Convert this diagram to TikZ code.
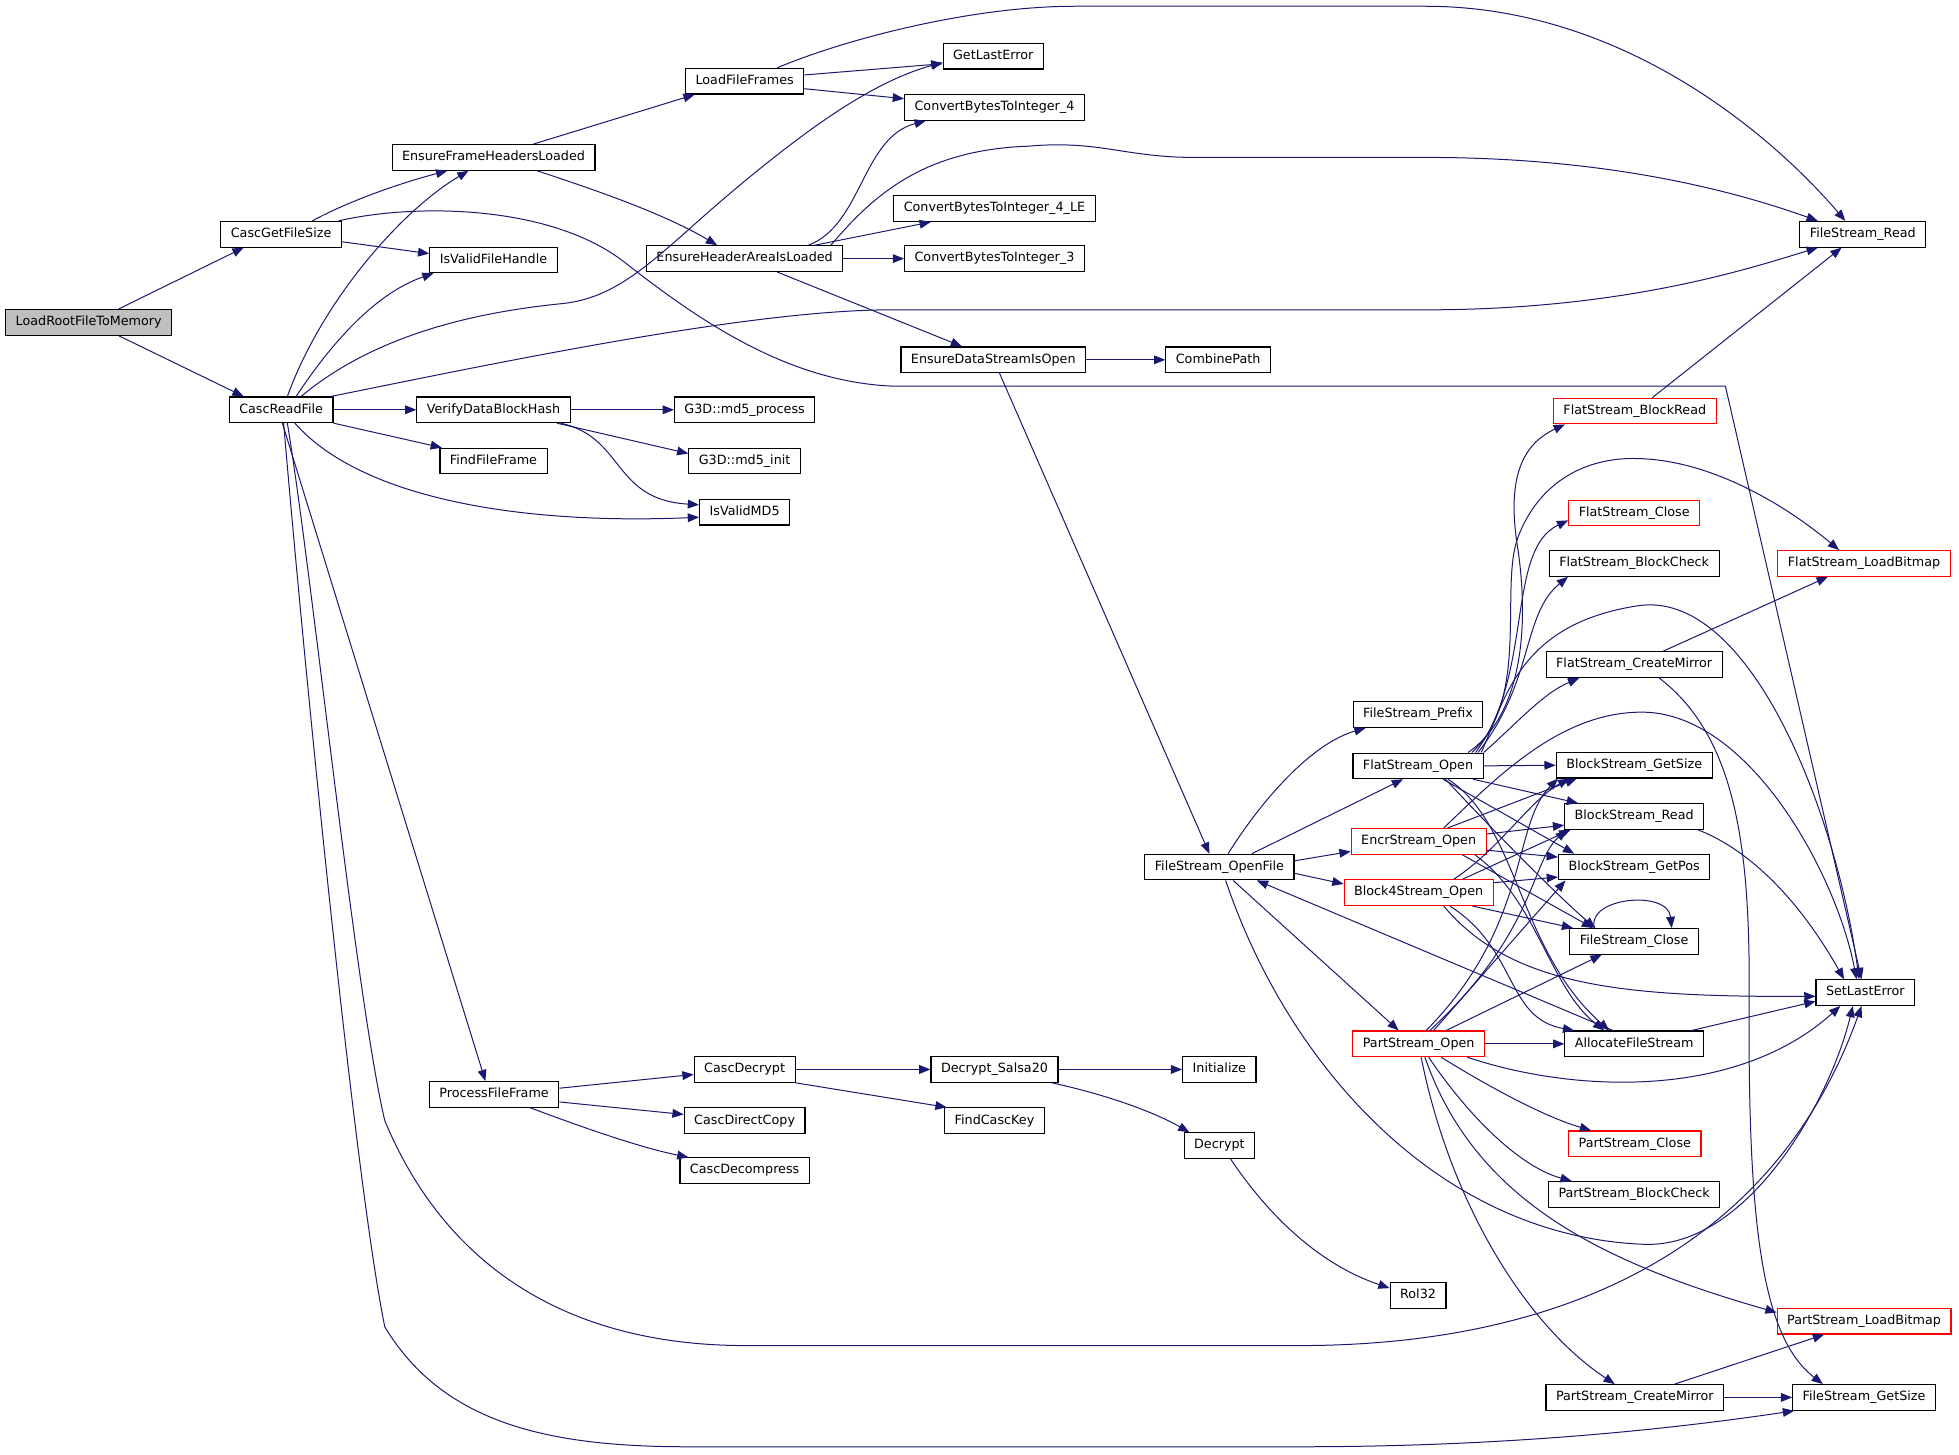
\documentclass[tikz,border=0pt]{standalone}
\usepackage{fontspec}
\setmainfont{DejaVu Sans}
\usetikzlibrary{arrows.meta}
\definecolor{edgec}{HTML}{191970}
\definecolor{rootf}{HTML}{BFBFBF}
\definecolor{redb}{HTML}{FF0000}
\begin{document}
\begin{tikzpicture}[x=1pt,y=-1pt,
  box/.style={draw=black, line width=0.9pt, fill=white, minimum height=20.5pt,
    inner xsep=8pt, inner ysep=0pt, text height=7.6pt, text depth=2.3pt,
    font=\fontsize{10.2}{12}\selectfont},
  redbox/.style={box, draw=redb},
  rootbox/.style={box, fill=rootf},
  e/.style={draw=edgec, line width=0.8pt, -{Triangle[length=9pt,width=7pt]}}]
\fill[white] (0,0) rectangle (1568,1164);
\useasboundingbox (0,0) rectangle (1568,1164);
% nodes
\node[rootbox] (root) at (71,258) {LoadRootFileToMemory};
\node[box] (cgfs) at (225,187.5) {CascGetFileSize};
\node[box] (crf) at (225,328) {CascReadFile};
\node[box] (efhl) at (395,126) {EnsureFrameHeadersLoaded};
\node[box] (ivfh) at (395,208) {IsValidFileHandle};
\node[box] (vdbh) at (395,328) {VerifyDataBlockHash};
\node[box] (fff) at (395,369) {FindFileFrame};
\node[box] (pff) at (395.5,876) {ProcessFileFrame};
\node[box] (lff) at (596,65) {LoadFileFrames};
\node[box] (ehal) at (596,207) {EnsureHeaderAreaIsLoaded};
\node[box] (md5p) at (596,328) {G3D::md5\_process};
\node[box] (md5i) at (596,369) {G3D::md5\_init};
\node[box] (ivmd5) at (596,410) {IsValidMD5};
\node[box] (cdec) at (596,856) {CascDecrypt};
\node[box] (cdc) at (596,897) {CascDirectCopy};
\node[box] (cdcmp) at (596,937) {CascDecompress};
\node[box] (gle) at (795,45) {GetLastError};
\node[box] (cbi4) at (796,86) {ConvertBytesToInteger\_4};
\node[box] (cbi4le) at (796,167) {ConvertBytesToInteger\_4\_LE};
\node[box] (cbi3) at (796,207) {ConvertBytesToInteger\_3};
\node[box] (edso) at (795,288) {EnsureDataStreamIsOpen};
\node[box] (ds20) at (796,856) {Decrypt\_Salsa20};
\node[box] (fck) at (796,897) {FindCascKey};
\node[box] (cp) at (975,288) {CombinePath};
\node[box] (fsof) at (976,694) {FileStream\_OpenFile};
\node[box] (init) at (976,856) {Initialize};
\node[box] (decr) at (976,917) {Decrypt};
\node[box] (fsp) at (1135,572) {FileStream\_Prefix};
\node[box] (fso) at (1135,613) {FlatStream\_Open};
\node[redbox] (eso) at (1135.5,673.5) {EncrStream\_Open};
\node[redbox] (b4so) at (1135.5,714.5) {Block4Stream\_Open};
\node[redbox] (pso) at (1135.5,835.5) {PartStream\_Open};
\node[box] (rol) at (1135,1037) {Rol32};
\node[redbox] (fsbr) at (1308.5,329) {FlatStream\_BlockRead};
\node[redbox] (fsc) at (1308,410.5) {FlatStream\_Close};
\node[box] (fsbc) at (1308,451) {FlatStream\_BlockCheck};
\node[box] (fscm) at (1308,532) {FlatStream\_CreateMirror};
\node[box] (bsgs) at (1308,612.5) {BlockStream\_GetSize};
\node[box] (bsr) at (1308,653.5) {BlockStream\_Read};
\node[box] (bsgp) at (1308,694) {BlockStream\_GetPos};
\node[box] (fscl) at (1308,753.5) {FileStream\_Close};
\node[box] (afs) at (1308,835.5) {AllocateFileStream};
\node[redbox] (psc) at (1308.5,915.5) {PartStream\_Close};
\node[box] (psbc) at (1308,956) {PartStream\_BlockCheck};
\node[box] (pscm) at (1308.5,1118.5) {PartStream\_CreateMirror};
\node[box] (fsr) at (1491,187.5) {FileStream\_Read};
\node[redbox] (fslb) at (1492,451) {FlatStream\_LoadBitmap};
\node[box] (sle) at (1493,794.5) {SetLastError};
\node[redbox] (pslb) at (1492,1057.5) {PartStream\_LoadBitmap};
\node[box] (fsgs) at (1492,1118.5) {FileStream\_GetSize};
% root
\draw[e] ([xshift=24pt]root.north) -- ([xshift=-30pt]cgfs.south);
\draw[e] ([xshift=24pt]root.south) -- ([xshift=-30pt]crf.north);
% CascGetFileSize
\draw[e] ([xshift=25pt]cgfs.north) .. controls (275,163) and (315,148) .. ([xshift=-37pt]efhl.south);
\draw[e] ([yshift=-6pt]cgfs.east) -- ([yshift=5pt]ivfh.west);
\draw[e] ([xshift=46pt]cgfs.north) .. controls (330,163) and (440,163) .. (500,210) .. controls (560,257) and (630,305) .. (713,309) -- (1381,309) -- ([xshift=-3pt]sle.north);
% CascReadFile
\draw[e] ([xshift=5pt]crf.north) .. controls (258,240) and (322,168) .. ([xshift=-20pt]efhl.south);
\draw[e] ([xshift=12pt]crf.north) .. controls (265,275) and (300,235) .. ([xshift=-48pt]ivfh.south);
\draw[e] ([xshift=16pt]crf.north) .. controls (300,268) and (380,250) .. (450,243) .. controls (500,238) and (530,200) .. (590,150) .. controls (650,100) and (700,65) .. ([yshift=-5pt]gle.west);
\draw[e] ([xshift=40pt]crf.north) .. controls (400,290) and (600,248) .. (713,248) -- (1141,248) .. controls (1300,248) and (1400,215) .. ([xshift=-36pt]fsr.south);
\draw[e] (crf.east) -- (vdbh.west);
\draw[e] (crf.south east) -- ([xshift=2pt]fff.north west);
\draw[e] ([xshift=11pt]crf.south) .. controls (290,400) and (420,420) .. ([yshift=-4pt]ivmd5.west);
\draw[e] ([xshift=1pt]crf.south) -- ([xshift=-7pt]pff.north);
\draw[e] ([xshift=5pt]crf.south) .. controls (250,460) and (285,800) .. (308,897) .. controls (355,1010) and (450,1077) .. (597,1077) -- (1040,1077) .. controls (1250,1077) and (1420,1000) .. ([xshift=-3pt]sle.south);
\draw[e] ([xshift=2pt]crf.south) .. controls (245,550) and (285,950) .. (308,1062) .. controls (355,1140) and (440,1158) .. (551,1158) -- (1040,1158) .. controls (1200,1158) and (1330,1145) .. ([xshift=-56pt]fsgs.south);
% EnsureFrameHeadersLoaded
\draw[e] ([xshift=32pt]efhl.north) -- ([xshift=-40pt]lff.south);
\draw[e] ([xshift=35pt]efhl.south) .. controls (470,150) and (530,170) .. ([xshift=-22pt]ehal.north);
% LoadFileFrames
\draw[e] ([yshift=5pt]lff.east) -- ([yshift=-6pt]gle.west);
\draw[e] ([yshift=-6pt]lff.east) -- ([yshift=7pt]cbi4.west);
\draw[e] ([xshift=26pt]lff.north) .. controls (680,30) and (780,5) .. (860,5) -- (1141,5) .. controls (1300,5) and (1420,110) .. ([xshift=-14pt]fsr.north);
% EnsureHeaderAreaIsLoaded
\draw[e] ([xshift=51pt]ehal.north) .. controls (690,180) and (690,110) .. ([xshift=-55pt]cbi4.south);
\draw[e] ([xshift=69pt]ehal.north) .. controls (700,155) and (740,120) .. (823,117) .. controls (880,112) and (900,126) .. (956,126) -- (1141,126) .. controls (1280,126) and (1380,150) .. ([xshift=-36pt]fsr.north);
\draw[e] ([xshift=56pt]ehal.north) -- ([xshift=-51pt]cbi4le.south);
\draw[e] (ehal.east) -- (cbi3.west);
\draw[e] ([xshift=26pt]ehal.south) -- ([xshift=-25pt]edso.north);
% EnsureDataStreamIsOpen
\draw[e] (edso.east) -- (cp.west);
\draw[e] ([xshift=5pt]edso.south) -- ([xshift=-8pt]fsof.north);
% VerifyDataBlockHash
\draw[e] (vdbh.east) -- (md5p.west);
\draw[e] ([xshift=-11pt]vdbh.south east) -- ([yshift=6pt]md5i.west);
\draw[e] ([xshift=-8pt]vdbh.south east) .. controls (500,350) and (490,400) .. ([yshift=6pt]ivmd5.west);
% FileStream_OpenFile
\draw[e] ([xshift=7pt]fsof.north) .. controls (1010,640) and (1050,595) .. ([xshift=-42pt]fsp.south);
\draw[e] ([xshift=26pt]fsof.north) -- ([xshift=-12pt]fso.south);
\draw[e] ([yshift=5pt]fsof.east) -- ([yshift=-8pt]eso.west);
\draw[e] ([yshift=-5pt]fsof.east) -- ([yshift=7pt]b4so.west);
\draw[e] ([xshift=11pt]fsof.south) -- ([xshift=-16pt]pso.north);
\draw[e] ([xshift=5pt]fsof.south) .. controls (1030,850) and (1150,990) .. (1317,996) .. controls (1400,998) and (1465,880) .. ([xshift=-10pt]sle.south);
\draw[e] ([xshift=-17pt]afs.north) -- ([xshift=30pt]fsof.south);
% FlatStream_Open
\draw[e] ([xshift=40pt]fso.north) .. controls (1215,575) and (1225,510) .. (1215,440) .. controls (1205,380) and (1220,355) .. ([xshift=-56pt]fsbr.south);
\draw[e] ([xshift=43pt]fso.north) .. controls (1225,560) and (1200,470) .. (1215,430) .. controls (1232,385) and (1270,366) .. (1310,367) .. controls (1370,368) and (1430,405) .. ([xshift=-20pt]fslb.north);
\draw[e] ([xshift=46pt]fso.north) .. controls (1228,540) and (1205,440) .. ([yshift=-6pt]fsc.west);
\draw[e] ([xshift=48pt]fso.north) .. controls (1228,545) and (1218,492) .. ([xshift=-53pt]fsbc.south);
\draw[e] ([xshift=-2pt]fso.north east) .. controls (1205,560) and (1215,500) .. (1310,485) .. controls (1400,470) and (1470,650) .. ([xshift=-5pt]sle.north);
\draw[e] (fso.north east) .. controls (1215,578) and (1235,555) .. ([xshift=-44pt]fscm.south);
\draw[e] (fso.east) -- (bsgs.west);
\draw[e] ([xshift=44pt]fso.south) -- ([xshift=-45pt]bsr.north);
\draw[e] ([xshift=20pt]fso.south) -- ([xshift=-48pt]bsgp.north);
\draw[e] ([xshift=22pt]fso.south) .. controls (1200,670) and (1250,720) .. ([xshift=-31pt]fscl.north);
\draw[e] ([xshift=24pt]fso.south) .. controls (1215,660) and (1215,760) .. ([xshift=-20pt]afs.north);
% EncrStream_Open
\draw[e] ([xshift=20pt]eso.north) .. controls (1200,620) and (1250,570) .. (1314,570) .. controls (1400,570) and (1470,700) .. ([xshift=-7pt]sle.north);
\draw[e] ([xshift=23pt]eso.north) -- ([xshift=-46pt]bsgs.south);
\draw[e] ([yshift=6pt]eso.east) -- ([yshift=-7pt]bsr.west);
\draw[e] ([yshift=-7pt]eso.east) -- ([yshift=8pt]bsgp.west);
\draw[e] ([xshift=35pt]eso.south) -- ([xshift=-33pt]fscl.north);
\draw[e] ([xshift=45pt]eso.south) .. controls (1230,720) and (1240,790) .. ([xshift=-24pt]afs.north);
% Block4Stream_Open
\draw[e] ([xshift=28pt]b4so.north) .. controls (1200,680) and (1225,640) .. ([xshift=-52pt]bsgs.south);
\draw[e] ([xshift=35pt]b4so.north) -- ([xshift=-51pt]bsr.south);
\draw[e] ([yshift=8pt]b4so.east) -- ([yshift=-8pt]bsgp.west);
\draw[e] ([xshift=43pt]b4so.south) -- ([xshift=3pt]fscl.north west);
\draw[e] ([xshift=20pt]b4so.south) .. controls (1210,790) and (1300,798) .. ([yshift=-3pt]sle.west);
\draw[e] ([xshift=25pt]b4so.south) .. controls (1215,760) and (1205,815) .. ([xshift=-48pt]afs.north);
% PartStream_Open
\draw[e] ([xshift=6pt]pso.north) .. controls (1225,740) and (1210,660) .. ([xshift=-61pt]bsgs.south);
\draw[e] ([xshift=9pt]pso.north) .. controls (1230,745) and (1225,690) .. ([xshift=-54pt]bsr.south);
\draw[e] ([xshift=12pt]pso.north) -- ([xshift=-55pt]bsgp.south);
\draw[e] ([xshift=22pt]pso.north) -- ([xshift=-26pt]fscl.south);
\draw[e] (pso.east) -- (afs.west);
\draw[e] ([xshift=39pt]pso.south) .. controls (1260,875) and (1390,880) .. ([xshift=-20pt]sle.south);
\draw[e] ([xshift=18pt]pso.south) .. controls (1200,875) and (1240,895) .. ([xshift=-35pt]psc.north);
\draw[e] ([xshift=8pt]pso.south) .. controls (1180,900) and (1220,935) .. ([xshift=-50pt]psbc.north);
\draw[e] ([xshift=5pt]pso.south) .. controls (1180,960) and (1280,1010) .. ([yshift=7pt]pslb.west);
\draw[e] ([xshift=2pt]pso.south) .. controls (1160,960) and (1220,1060) .. ([xshift=-16pt]pscm.north);
% FlatStream_CreateMirror
\draw[e] ([xshift=23pt]fscm.north) -- ([xshift=-29pt]fslb.south);
\draw[e] ([xshift=20pt]fscm.south) .. controls (1390,590) and (1401,680) .. (1400,800) .. controls (1399,980) and (1410,1070) .. ([xshift=-33pt]fsgs.north);
% PartStream_CreateMirror
\draw[e] ([xshift=32pt]pscm.north) -- ([xshift=-32pt]pslb.south);
\draw[e] (pscm.east) -- (fsgs.west);
% BlockStream_Read, AllocateFileStream, FileStream_Close
\draw[e] ([xshift=-5pt]bsr.south east) .. controls (1400,680) and (1440,720) .. ([xshift=-17pt]sle.north);
\draw[e] ([xshift=-10pt]afs.north east) -- ([yshift=-7pt]sle.west);
\draw[e] ([xshift=-32pt]fscl.north) .. controls (1270,718) and (1335,712) .. ([xshift=30pt]fscl.north);
% FlatStream_BlockRead
\draw[e] ([xshift=14pt]fsbr.north) -- ([xshift=-17pt]fsr.south);
% ProcessFileFrame chain
\draw[e] ([yshift=5pt]pff.east) -- ([yshift=-4pt]cdec.west);
\draw[e] ([yshift=-6pt]pff.east) -- ([yshift=5pt]cdc.west);
\draw[e] ([xshift=29pt]pff.south) .. controls (460,900) and (510,918) .. ([xshift=-45pt]cdcmp.north);
\draw[e] (cdec.east) -- (ds20.west);
\draw[e] (cdec.south east) -- ([xshift=2pt]fck.north west);
\draw[e] (ds20.east) -- (init.west);
\draw[e] ([xshift=46pt]ds20.south) .. controls (880,875) and (920,888) .. ([xshift=-24pt]decr.north);
\draw[e] ([xshift=9pt]decr.south) .. controls (1010,965) and (1050,1010) .. ([yshift=6pt]rol.west);
\end{tikzpicture}
\end{document}
